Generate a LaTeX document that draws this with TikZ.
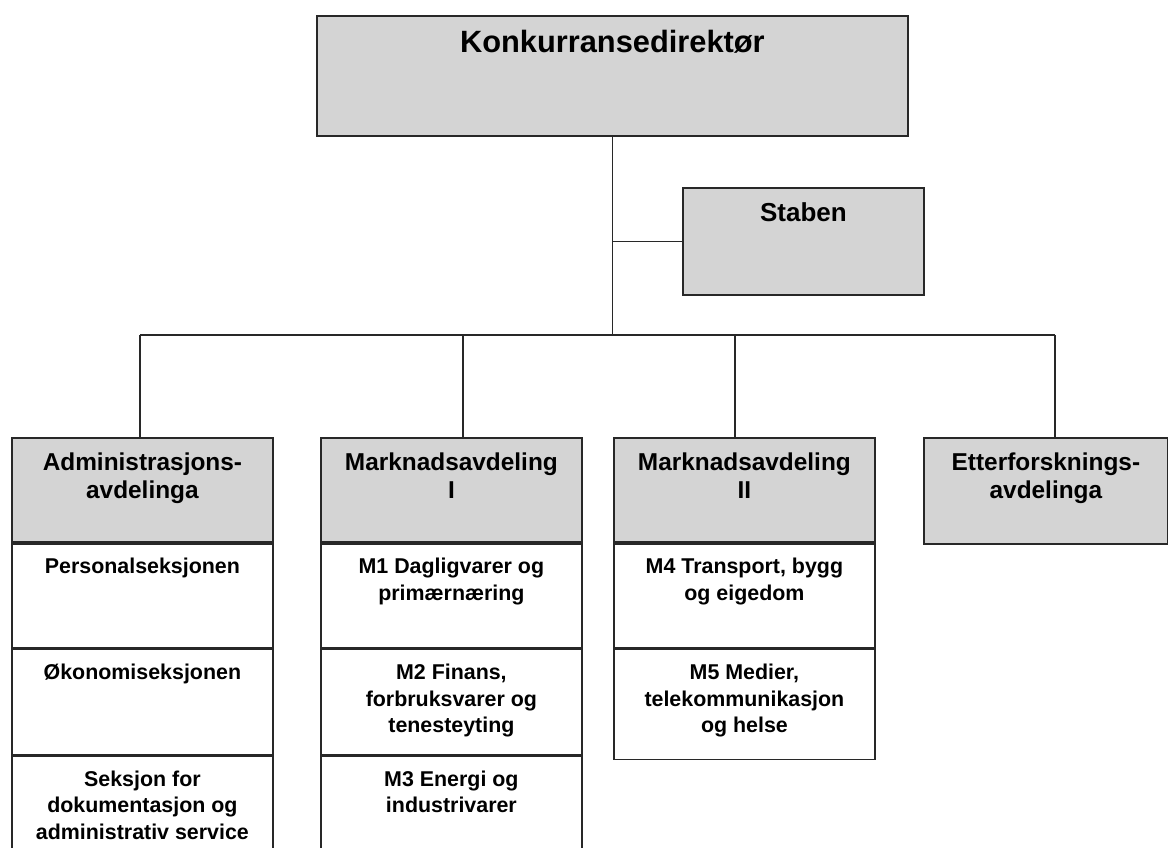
\documentclass[tikz,border=0pt]{standalone}
\usepackage{fontspec}
\setmainfont{Liberation Sans}
\usetikzlibrary{positioning}
\definecolor{boksgra}{RGB}{212,212,212}
\definecolor{strek}{RGB}{40,40,40}

\begin{document}
\begin{tikzpicture}[x=0.5pt, y=-0.5pt,
    node distance=0pt,
    boks/.style={draw=strek, line width=0.9pt, fill=boksgra, inner sep=0pt,
                 anchor=north west},
    hode/.style={boks, minimum width=130.5pt, minimum height=52pt},
    rad/.style={boks, fill=white, minimum width=130.5pt, minimum height=52pt,
                anchor=north},
    tekst/.style={anchor=north, yshift=-7.5pt, inner sep=0pt, align=center,
                  font=\bfseries\fontsize{12.2}{14}\selectfont},
    radtekst/.style={tekst, font=\bfseries\fontsize{10.7}{13.3}\selectfont},
    linje/.style={draw=strek, line width=0.75pt}]
  \useasboundingbox (0,0) rectangle (1168,847);

  % leiing
  \node[boks, minimum width=295.5pt, minimum height=60pt,
        label={[tekst, font=\bfseries\fontsize{15.4}{18}\selectfont]north:Konkurransedirektør}]
        (dir) at (316,15) {};
  \node[boks, minimum width=120.5pt, minimum height=53.5pt,
        label={[tekst, font=\bfseries\fontsize{13}{15}\selectfont]north:Staben}]
        (stab) at (682,187) {};

  % avdelingar
  \node[hode, label={[tekst]north:{Administrasjons-\\avdelinga}}] (adm) at (11,437) {};
  \node[hode, label={[tekst]north:{Marknadsavdeling\\I}}] (mI) at (320,437) {};
  \node[hode, label={[tekst]north:{Marknadsavdeling\\II}}] (mII) at (613,437) {};
  \node[hode, minimum width=122pt, minimum height=53pt,
        label={[tekst]north:{Etterforsknings-\\avdelinga}}] (etter) at (923,437) {};

  % seksjonar
  \node[rad, below=of adm, label={[radtekst]north:Personalseksjonen}] (adm1) {};
  \node[rad, below=of adm1, minimum height=52.5pt,
        label={[radtekst]north:Økonomiseksjonen}] (adm2) {};
  \node[rad, below=of adm2, minimum height=60pt,
        label={[radtekst]north:{Seksjon for\\dokumentasjon og\\administrativ service}}] (adm3) {};

  \node[rad, below=of mI, label={[radtekst]north:{M1 Dagligvarer og\\primærnæring}}] (mI1) {};
  \node[rad, below=of mI1, minimum height=52.5pt,
        label={[radtekst]north:{M2 Finans,\\forbruksvarer og\\tenesteyting}}] (mI2) {};
  \node[rad, below=of mI2, minimum height=60pt,
        label={[radtekst]north:{M3 Energi og\\industrivarer}}] (mI3) {};

  \node[rad, below=of mII, label={[radtekst]north:{M4 Transport, bygg\\og eigedom}}] (mII1) {};
  \node[rad, below=of mII1, minimum height=55pt,
        label={[radtekst]north:{M5 Medier,\\telekommunikasjon\\og helse}}] (mII2) {};

  % linjer
  \coordinate (bL) at (140,335);
  \coordinate (bI) at (463,335);
  \coordinate (bII) at (735,335);
  \coordinate (bR) at (1055,335);
  \draw[linje] (dir.south) -- (dir.south |- bL);
  \draw[linje] (dir.south |- stab.west) -- (stab.west);
  \draw[linje] (bL) -- (bR);
  \draw[linje] (bL) -- (bL |- adm.north);
  \draw[linje] (bI) -- (bI |- mI.north);
  \draw[linje] (bII) -- (bII |- mII.north);
  \draw[linje] (bR) -- (bR |- etter.north);
\end{tikzpicture}
\end{document}
